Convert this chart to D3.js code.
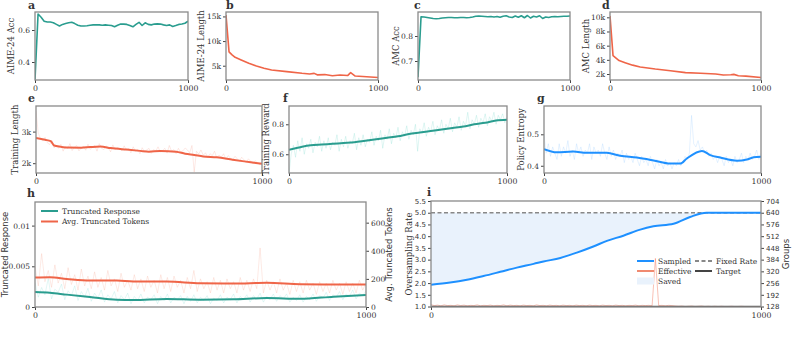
<!DOCTYPE html>
<html>
<head>
<meta charset="utf-8">
<script src="https://cdn.jsdelivr.net/npm/d3@7/dist/d3.min.js"></script>
<style>
  body { margin: 0; background: #fff; }
  svg text { font-family: "DejaVu Serif", serif; fill: #333; }
</style>
</head>
<body>
<svg id="chart" width="793" height="338"></svg>
<script>
// ---- data ----
const evalSteps = [0,20,40,60,80,100,120,140,160,180,200,220,240,260,280,300,320,340,360,380,400,420,440,460,480,500,520,540,560,580,600,620,640,660,680,700,720,740,760,780,800,820,840,860,880,900,920,940,960,980,1000];
const aimeAcc = [0.29,0.70,0.68,0.655,0.65,0.65,0.645,0.635,0.625,0.635,0.64,0.645,0.648,0.64,0.63,0.625,0.625,0.627,0.63,0.632,0.632,0.632,0.63,0.632,0.63,0.628,0.62,0.63,0.637,0.637,0.635,0.628,0.62,0.635,0.648,0.628,0.645,0.635,0.632,0.637,0.638,0.637,0.632,0.628,0.632,0.622,0.628,0.635,0.638,0.642,0.655];
const amcAcc = [0.635,0.877,0.876,0.874,0.872,0.870,0.869,0.870,0.872,0.873,0.874,0.874,0.873,0.873,0.874,0.874,0.873,0.874,0.876,0.879,0.880,0.879,0.878,0.877,0.878,0.876,0.878,0.875,0.879,0.881,0.876,0.874,0.880,0.875,0.881,0.873,0.882,0.872,0.879,0.876,0.881,0.870,0.876,0.874,0.877,0.878,0.877,0.878,0.879,0.879,0.880];

const aimeLenSteps = [0,20,40,60,100,150,200,250,300,400,500,550,580,600,650,700,750,800,820,850,900,1000];
const aimeLen = [15300,7800,7200,6700,6150,5500,4950,4470,4130,3800,3460,3330,3450,3150,3200,2970,3100,3000,3600,2900,2800,2600];
const amcLenSteps = [0,20,60,100,150,200,300,400,500,600,700,750,800,820,850,900,1000];
const amcLen = [10200,4600,3900,3600,3250,3000,2700,2450,2200,2100,2000,1850,1900,1950,1750,1700,1500];

// training curves: smoothed (sparse steps) + raw (evenly spaced over 0..1000)
const lenSmoothSteps = [0,40,65,80,110,140,200,240,285,330,400,460,500,550,620,660,700,740,800,870,950,1000];
const lenSmooth = [2800,2740,2700,2560,2520,2495,2490,2510,2525,2480,2430,2390,2365,2390,2365,2300,2260,2215,2185,2110,2030,1980];
const lenRaw = [3650,2950,2780,2700,2820,2650,2590,2720,2480,2560,2470,2600,2380,2540,2450,2620,2400,2510,2560,2390,2480,2530,2410,2600,2440,2500,2560,2380,2620,2470,2430,2550,2490,2360,2580,2420,2500,2460,2390,2550,2410,2470,2330,2520,2380,2440,2300,2490,2360,2420,2470,2310,2430,2380,2520,2350,2400,2470,2320,2560,2380,2430,2300,2470,2350,2390,2480,2420,2330,2560,1720,2380,2290,2420,2250,2330,2180,2300,2240,2380,2160,2260,2190,2300,2120,2240,2170,2090,2220,2150,2060,2190,2110,2020,2140,2060,1980,2080,2010,1950,2050];

const rewSmoothSteps = [0,30,60,100,150,200,250,300,350,400,450,500,550,600,650,700,750,800,850,900,950,1000];
const rewSmooth = [0.63,0.64,0.65,0.66,0.665,0.67,0.675,0.68,0.69,0.70,0.71,0.72,0.735,0.745,0.755,0.765,0.775,0.785,0.80,0.81,0.825,0.83];
const rewRaw = [0.47,0.60,0.66,0.58,0.69,0.62,0.71,0.60,0.67,0.64,0.70,0.61,0.68,0.65,0.72,0.62,0.69,0.64,0.71,0.63,0.68,0.66,0.73,0.62,0.70,0.65,0.72,0.64,0.69,0.67,0.74,0.63,0.71,0.66,0.73,0.65,0.70,0.68,0.75,0.66,0.72,0.69,0.76,0.64,0.73,0.70,0.77,0.67,0.74,0.71,0.78,0.69,0.75,0.72,0.79,0.70,0.76,0.73,0.80,0.62,0.77,0.74,0.81,0.72,0.78,0.75,0.82,0.73,0.79,0.76,0.83,0.74,0.80,0.77,0.84,0.75,0.81,0.78,0.85,0.76,0.82,0.79,0.88,0.77,0.83,0.80,0.86,0.78,0.84,0.81,0.87,0.79,0.85,0.82,0.88,0.80,0.86,0.83,0.87,0.81,0.85];

const entSmoothSteps = [0,58,135,197,289,351,428,505,582,628,658,728,766,812,889,935,966,1000];
const entSmooth = [0.453,0.443,0.445,0.441,0.441,0.432,0.426,0.417,0.407,0.407,0.423,0.447,0.434,0.426,0.416,0.420,0.427,0.429];
const entRaw = [0.50,0.44,0.47,0.43,0.46,0.44,0.42,0.47,0.43,0.46,0.44,0.48,0.43,0.45,0.42,0.47,0.44,0.46,0.43,0.45,0.44,0.47,0.42,0.46,0.44,0.45,0.43,0.47,0.44,0.42,0.46,0.43,0.45,0.42,0.44,0.43,0.45,0.41,0.44,0.42,0.43,0.41,0.44,0.42,0.40,0.43,0.41,0.42,0.40,0.43,0.41,0.39,0.42,0.40,0.41,0.39,0.42,0.40,0.41,0.39,0.41,0.40,0.42,0.40,0.41,0.43,0.42,0.44,0.56,0.47,0.46,0.48,0.45,0.46,0.44,0.45,0.43,0.44,0.42,0.43,0.41,0.43,0.42,0.40,0.43,0.41,0.42,0.40,0.43,0.41,0.42,0.44,0.41,0.43,0.42,0.44,0.42,0.43,0.45,0.42,0.44];

const truncSmoothSteps = [0,45,96,166,247,297,398,499,600,700,801,902,1000];
const truncResp = [0.00184,0.00175,0.00152,0.00123,0.0009,0.00085,0.00098,0.0009,0.00095,0.0011,0.001,0.00127,0.00148];
const truncTok = [209,212,200,188,188,181,181,169,167,172,162,160,160];
const truncRespRaw = [0.0030,0.0012,0.0024,0.0015,0.0035,0.0010,0.0022,0.0018,0.0028,0.0009,0.0020,0.0014,0.0026,0.0008,0.0019,0.0012,0.0023,0.0007,0.0017,0.0011,0.0021,0.0006,0.0015,0.0010,0.0019,0.0005,0.0014,0.0009,0.0017,0.0004,0.0013,0.0008,0.0016,0.0005,0.0012,0.0009,0.0015,0.0004,0.0013,0.0008,0.0016,0.0005,0.0012,0.0009,0.0014,0.0004,0.0013,0.0007,0.0015,0.0005,0.0012,0.0008,0.0014,0.0004,0.0011,0.0008,0.0015,0.0005,0.0012,0.0009,0.0016,0.0005,0.0013,0.0009,0.0015,0.0006,0.0014,0.0010,0.0017,0.0006,0.0013,0.0009,0.0016,0.0007,0.0014,0.0010,0.0016,0.0006,0.0012,0.0008,0.0015,0.0006,0.0013,0.0009,0.0016,0.0007,0.0014,0.0011,0.0018,0.0008,0.0015,0.0012,0.0019,0.0009,0.0016,0.0013,0.0021,0.0010,0.0017,0.0014,0.0020];
const truncTokRaw = [290,150,380,180,260,140,300,170,240,130,280,160,230,120,270,150,220,130,250,140,210,120,260,150,200,110,240,140,190,120,230,130,200,110,220,140,190,100,230,130,210,110,220,140,190,100,210,130,260,110,200,130,180,100,210,120,190,100,200,130,180,100,210,120,190,110,200,130,420,100,190,120,180,100,200,120,170,90,190,110,180,100,190,120,170,90,180,110,170,100,190,120,170,90,180,110,170,100,190,120,170];

const sampledSteps = [0,58,109,159,210,260,311,341,392,442,492,533,583,634,674,735,785,835,1000];
const sampledRate = [1.93,2.02,2.14,2.3,2.48,2.66,2.82,2.92,3.07,3.3,3.56,3.8,4.02,4.28,4.42,4.53,4.82,5.0,5.0];
const fixedRate = 5.0;
const targetRate = 1.0;
const effectiveRaw = [1.08,1.04,1.06,1.03,1.07,1.04,1.05,1.03,1.07,1.04,1.06,1.03,1.05,1.04,1.07,1.03,1.05,1.04,1.06,1.03,1.05,1.04,1.07,1.03,1.06,1.04,1.05,1.03,1.06,1.04,1.05,1.03,1.07,1.04,1.05,1.03,1.06,1.04,1.05,1.03,1.06,1.04,1.05,1.03,1.06,1.04,1.05,1.03,1.06,1.04,1.05,1.03,1.06,1.04,1.05,1.03,1.06,1.04,1.05,1.03,1.05,1.04,1.06,1.03,1.05,1.04,1.05,1.03,3.05,1.04,1.05,1.03,1.05,1.04,1.02,1.01,1.02,1.00,1.01,1.02,1.00,1.01,1.02,1.00,1.01,1.00,1.01,1.00,1.01,1.00,1.00,1.01,1.00,1.00,1.01,1.00,1.00,1.00,1.00,1.00,1.00];

// ---- style ----
const TEAL = '#2a9d8f', ORANGE = '#ef6548', BLUE = '#1e90ff';
const svg = d3.select('#chart');

const kFmt = d => (d / 1000) + 'k';
const plainFmt = d => String(d);
const SANS = '"DejaVu Sans", sans-serif';
const TICK = 7.5;

// raw series are evenly spaced over 0..1000
const rawStep = arr => (d, i) => i / (arr.length - 1) * 1000;

function styleAxis(a, size, family) {
  a.select('.domain').remove();
  a.selectAll('text').style('font-size', size + 'px').attr('fill', '#333');
  if (family) a.selectAll('text').style('font-family', family);
  a.selectAll('line').attr('stroke', '#444');
}

/**
 * Build one panel: axes, label and letter. Returns scales and a clipped group.
 */
function panel(cfg) {
  const x = d3.scaleLinear().domain([0, 1000]).range([cfg.x0, cfg.x1]);
  const y = d3.scaleLinear().domain(cfg.yDomain).range([cfg.y1, cfg.y0]);
  const g = svg.append('g');

  const clipId = 'clip-' + cfg.letter;
  svg.append('clipPath').attr('id', clipId).append('rect')
    .attr('x', cfg.x0).attr('y', cfg.y0)
    .attr('width', cfg.x1 - cfg.x0).attr('height', cfg.y1 - cfg.y0);
  const plot = g.append('g').attr('clip-path', `url(#${clipId})`);

  const xAxis = g.append('g')
    .attr('transform', `translate(0,${cfg.y1})`)
    .call(d3.axisBottom(x).tickValues([0, 1000]).tickSize(3).tickPadding(2).tickFormat(plainFmt));
  const yAxis = g.append('g')
    .attr('transform', `translate(${cfg.x0},0)`)
    .call(d3.axisLeft(y).tickValues(cfg.yTicks).tickSize(3).tickPadding(2).tickFormat(cfg.yFmt || plainFmt));
  styleAxis(xAxis, TICK + 0.3);
  styleAxis(yAxis, cfg.sansTicks ? 7 : TICK, cfg.sansTicks ? SANS : null);

  // y label
  g.append('text')
    .attr('transform', `translate(${cfg.labelX},${(cfg.y0 + cfg.y1) / 2}) rotate(-90)`)
    .attr('text-anchor', 'middle')
    .attr('dominant-baseline', 'middle')
    .style('font-size', '8.5px')
    .style('font-family', cfg.labelSans ? SANS : null)
    .text(cfg.label);

  // panel letter
  g.append('text')
    .attr('x', cfg.letterX).attr('y', cfg.letterY)
    .style('font-size', '11px').style('font-weight', 'bold')
    .attr('fill', '#222')
    .text(cfg.letter);

  return { x, y, g, plot, frame: () => g.append('rect')
    .attr('x', cfg.x0).attr('y', cfg.y0)
    .attr('width', cfg.x1 - cfg.x0).attr('height', cfg.y1 - cfg.y0)
    .attr('fill', 'none').attr('stroke', '#8a8a8a').attr('stroke-width', 1.3) };
}

function drawLine(p, xs, ys, color, width, opacity, curve) {
  const line = d3.line()
    .x((d, i) => p.x(typeof xs === 'function' ? xs(d, i) : xs[i]))
    .y(d => p.y(d))
    .curve(curve || d3.curveLinear);
  p.plot.append('path')
    .attr('d', line(ys))
    .attr('fill', 'none')
    .attr('stroke', color)
    .attr('stroke-width', width)
    .attr('stroke-opacity', opacity)
    .attr('stroke-linejoin', 'round');
}

// ---- row 1: eval curves ----
const pa = panel({ letter: 'a', x0: 35, x1: 188, y0: 12, y1: 80, yDomain: [0.2875, 0.7125], yTicks: [0.4, 0.6],
  label: 'AIME-24 Acc', labelX: 11, letterX: 28, letterY: 9 });
drawLine(pa, evalSteps, aimeAcc, TEAL, 1.6, 1);
pa.frame();

const pb = panel({ letter: 'b', x0: 226, x1: 378, y0: 12, y1: 80, yDomain: [2100, 15900], yTicks: [5000, 10000, 15000], yFmt: kFmt,
  label: 'AIME-24 Length', labelX: 201, letterX: 226, letterY: 9 });
drawLine(pb, aimeLenSteps, aimeLen, ORANGE, 1.6, 1);
pb.frame();

const pc = panel({ letter: 'c', x0: 418, x1: 570, y0: 12, y1: 80, yDomain: [0.624, 0.896], yTicks: [0.7, 0.8],
  label: 'AMC Acc', labelX: 396, letterX: 414, letterY: 9 });
drawLine(pc, evalSteps, amcAcc, TEAL, 1.6, 1);
pc.frame();

const pd = panel({ letter: 'd', x0: 610, x1: 761, y0: 12, y1: 80, yDomain: [1155, 10750], yTicks: [2000, 4000, 6000, 8000, 10000], yFmt: kFmt,
  label: 'AMC Length', labelX: 586, letterX: 602, letterY: 9 });
drawLine(pd, amcLenSteps, amcLen, ORANGE, 1.6, 1);
pd.frame();

// ---- row 2: training curves ----
const pe = panel({ letter: 'e', x0: 36, x1: 262, y0: 106, y1: 173, yDomain: [1690, 3810], yTicks: [2000, 3000], yFmt: kFmt,
  label: 'Training Length', labelX: 15, letterX: 28, letterY: 102 });
drawLine(pe, rawStep(lenRaw), lenRaw, ORANGE, 0.8, 0.18);
drawLine(pe, lenSmoothSteps, lenSmooth, ORANGE, 2, 1, d3.curveMonotoneX);
pe.frame();

const pf = panel({ letter: 'f', x0: 289, x1: 507, y0: 106, y1: 173, yDomain: [0.475, 0.922], yTicks: [0.6, 0.8],
  label: 'Training Reward', labelX: 266, letterX: 283, letterY: 102 });
drawLine(pf, rawStep(rewRaw), rewRaw, '#5fd3c4', 0.8, 0.25);
drawLine(pf, rewSmoothSteps, rewSmooth, TEAL, 2, 1, d3.curveMonotoneX);
pf.frame();

const pg = panel({ letter: 'g', x0: 544, x1: 761, y0: 106, y1: 173, yDomain: [0.377, 0.59], yTicks: [0.4, 0.5],
  label: 'Policy Entropy', labelX: 521, letterX: 537, letterY: 102 });
drawLine(pg, rawStep(entRaw), entRaw, '#7ec0ff', 0.8, 0.25);
drawLine(pg, entSmoothSteps, entSmooth, BLUE, 2, 1, d3.curveMonotoneX);
pg.frame();

// ---- row 3 ----
const ph = panel({ letter: 'h', x0: 35, x1: 366, y0: 202, y1: 307, yDomain: [0, 0.0129], yTicks: [0, 0.005, 0.01],
  label: 'Truncated Response', labelX: 5.5, labelSans: true, letterX: 27, letterY: 197 });
const yTok = d3.scaleLinear().domain([0, 747]).range([307, 202]);
const phTok = { x: ph.x, y: yTok, plot: ph.plot };
drawLine(ph, rawStep(truncRespRaw), truncRespRaw, '#5fd3c4', 0.8, 0.22);
drawLine(phTok, rawStep(truncTokRaw), truncTokRaw, '#f4a08a', 0.8, 0.28);
drawLine(phTok, truncSmoothSteps, truncTok, ORANGE, 2, 1, d3.curveMonotoneX);
drawLine(ph, truncSmoothSteps, truncResp, TEAL, 2, 1, d3.curveMonotoneX);
const hRight = ph.g.append('g').attr('transform', 'translate(366,0)')
  .call(d3.axisRight(yTok).tickValues([0, 200, 400, 600]).tickSize(3).tickPadding(2));
styleAxis(hRight, TICK);
ph.g.append('text')
  .attr('transform', 'translate(389,254.5) rotate(-90)')
  .attr('text-anchor', 'middle').attr('dominant-baseline', 'middle')
  .style('font-size', '8.5px').style('font-family', SANS)
  .text('Avg. Truncated Tokens');
ph.frame();

// legend h
const hLegend = [{ name: 'Truncated Response', color: TEAL }, { name: 'Avg. Truncated Tokens', color: ORANGE }];
hLegend.forEach((d, i) => {
  const ly = 211 + i * 10.5;
  ph.g.append('line').attr('x1', 41).attr('x2', 58).attr('y1', ly).attr('y2', ly)
    .attr('stroke', d.color).attr('stroke-width', 2);
  ph.g.append('text').attr('x', 62).attr('y', ly + 2.7).style('font-size', '7.5px').text(d.name);
});

const pi = panel({ letter: 'i', x0: 431, x1: 761, y0: 201, y1: 307, yDomain: [0.98, 5.5],
  yTicks: [1.0, 1.5, 2.0, 2.5, 3.0, 3.5, 4.0, 4.5, 5.0, 5.5], yFmt: d3.format('.1f'), sansTicks: true,
  label: 'Oversampling Rate', labelX: 409, letterX: 427, letterY: 196 });
const yGroups = d3.scaleLinear().domain([0.98 * 128, 5.5 * 128]).range([307, 201]);

// saved area between sampled rate and fixed rate
const area = d3.area()
  .x((d, i) => pi.x(sampledSteps[i]))
  .y0(d => pi.y(d))
  .y1(() => pi.y(fixedRate))
  .curve(d3.curveMonotoneX);
pi.plot.append('path').attr('d', area(sampledRate)).attr('fill', '#e9f2fc');

pi.plot.append('line')
  .attr('x1', pi.x(0)).attr('x2', pi.x(1000))
  .attr('y1', pi.y(fixedRate)).attr('y2', pi.y(fixedRate))
  .attr('stroke', '#888').attr('stroke-width', 1.5).attr('stroke-dasharray', '4,2.5');
drawLine(pi, rawStep(effectiveRaw), effectiveRaw, ORANGE, 0.9, 0.45);
pi.plot.append('line')
  .attr('x1', pi.x(0)).attr('x2', pi.x(1000))
  .attr('y1', pi.y(targetRate)).attr('y2', pi.y(targetRate))
  .attr('stroke', '#333').attr('stroke-width', 1.6).attr('stroke-opacity', 0.8);
drawLine(pi, sampledSteps, sampledRate, BLUE, 2, 1, d3.curveMonotoneX);

const iRight = pi.g.append('g').attr('transform', 'translate(761,0)')
  .call(d3.axisRight(yGroups).tickValues([128, 192, 256, 320, 384, 448, 512, 576, 640, 704]).tickSize(3).tickPadding(2));
styleAxis(iRight, 7, SANS);
pi.g.append('text')
  .attr('transform', 'translate(786,254) rotate(-90)')
  .attr('text-anchor', 'middle').attr('dominant-baseline', 'middle')
  .style('font-size', '8.5px').style('font-family', SANS)
  .text('Groups');
pi.frame();

// legend i
const iLegend = [
  { name: 'Sampled', kind: 'line', color: BLUE, col: 0, row: 0 },
  { name: 'Effective', kind: 'line', color: '#f08a70', col: 0, row: 1 },
  { name: 'Saved', kind: 'patch', color: '#e9f2fc', col: 0, row: 2 },
  { name: 'Fixed Rate', kind: 'dash', color: '#888', col: 1, row: 0 },
  { name: 'Target', kind: 'line', color: '#444', col: 1, row: 1 }
];
iLegend.forEach(d => {
  const lx = d.col ? 695 : 637;
  const ly = 261 + d.row * 10;
  if (d.kind === 'patch') {
    pi.g.append('rect').attr('x', lx).attr('y', ly - 3.5).attr('width', 17).attr('height', 7).attr('fill', d.color);
  } else {
    pi.g.append('line').attr('x1', lx).attr('x2', lx + 17).attr('y1', ly).attr('y2', ly)
      .attr('stroke', d.color).attr('stroke-width', 2)
      .attr('stroke-dasharray', d.kind === 'dash' ? '4,2.5' : null);
  }
  pi.g.append('text').attr('x', lx + 21).attr('y', ly + 2.7).style('font-size', '7.5px').text(d.name);
});
</script>
</body>
</html>
